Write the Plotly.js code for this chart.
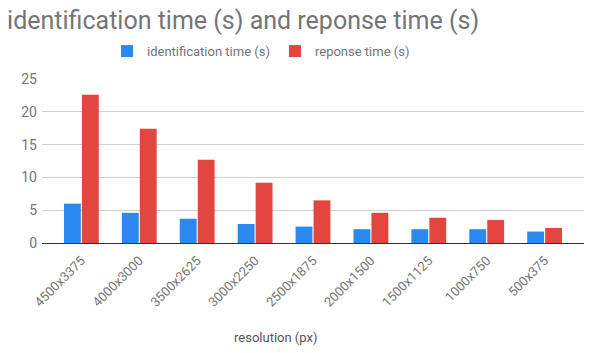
<!DOCTYPE html>
<html><head><meta charset="utf-8">
<script src="https://cdn.plot.ly/plotly-3.0.1.min.js"></script>
<style>body{margin:0;background:#fff}#c{width:592px;height:353px}</style>
</head><body><div id="c"></div>
<script>
const categories = ["4500x3375","4000x3000","3500x2625","3000x2250","2500x1875","2000x1500","1500x1125","1000x750","500x375"];
const identificationTime = [6.0, 4.6, 3.7, 2.9, 2.5, 2.1, 2.1, 2.1, 1.75];
const responseTime = [22.6, 17.4, 12.7, 9.2, 6.5, 4.6, 3.85, 3.5, 2.3];
const yTicks = [0,5,10,15,20,25];

const font = {family:"Roboto, Arial, sans-serif", color:"#757575"};
const data = [
  {type:"bar", name:"identification time (s)", x:categories, y:identificationTime,
   marker:{color:"#2B88EE"}},
  {type:"bar", name:"reponse time (s)", x:categories, y:responseTime,
   marker:{color:"#E2463F"}}
];
const layout = {
  width:592, height:353,
  margin:{l:42, r:8, t:79, b:110},
  paper_bgcolor:"#fff", plot_bgcolor:"#fff",
  font:Object.assign({size:13}, font),
  title:{text:"identification time (s) and reponse time (s)", x:0.012, xanchor:"left", y:0.943, yanchor:"middle",
         font:Object.assign({size:25}, font)},
  barmode:"group", bargap:0.38, bargroupgap:0.06,
  showlegend:true,
  legend:{orientation:"h", x:0.12, xanchor:"left", y:1.17, yanchor:"middle",
          font:Object.assign({size:13}, font)},
  xaxis:{type:"category", range:[-0.68, 8.68], tickangle:-45, tickfont:Object.assign({size:13}, font),
         showline:true, linecolor:"#333", linewidth:1, ticks:"", ticklabelstandoff:4},
  yaxis:{range:[0,25], tickvals:yTicks, ticktext:yTicks.map(String), gridcolor:"#d0d0d0", gridwidth:1,
         zeroline:false, showline:false, tickfont:Object.assign({size:14}, font), ticks:"", ticklabelstandoff:4},
  annotations:[{text:"resolution (px)", xref:"paper", yref:"paper", x:0.432, y:-0.577, xanchor:"center", yanchor:"middle",
                showarrow:false, font:{family:font.family, size:13, color:"#555"}}]
};
Plotly.newPlot("c", data, layout, {displayModeBar:false, staticPlot:true});
</script></body></html>
